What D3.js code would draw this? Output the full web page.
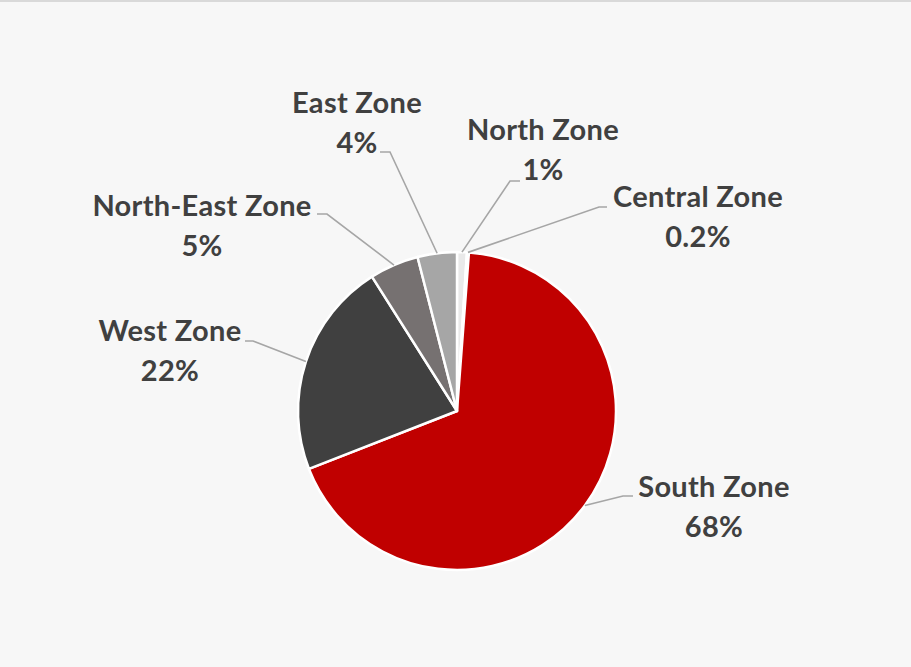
<!DOCTYPE html>
<html>
<head>
<meta charset="utf-8">
<script src="https://cdn.jsdelivr.net/npm/d3@7"></script>
<style>
  html, body { margin: 0; padding: 0; background: #f7f7f7; }
  svg { display: block; }
</style>
</head>
<body>
<svg id="chart" width="911" height="667"></svg>
<script>
// ---- data ----
const categories = ["North Zone", "Central Zone", "South Zone", "West Zone", "North-East Zone", "East Zone"];
const values = [1, 0.2, 68, 22, 5, 4];
const valueLabels = ["1%", "0.2%", "68%", "22%", "5%", "4%"];
const colors = ["#e9e9e9", "#cfcfcf", "#c00000", "#404040", "#767171", "#a6a6a6"];

// ---- layout (label anchor: text centre x, first baseline y, leader start x, leader elbow x, leader y) ----
const labelLayout = [
  { cx: 543, by: 140, lx: 520, ex: 510, ly: 181 },
  { cx: 698, by: 207, lx: 607, ex: 599, ly: 207 },
  { cx: 714, by: 497, lx: 633, ex: 623, ly: 496 },
  { cx: 170, by: 341, lx: 245, ex: 253, ly: 341 },
  { cx: 202, by: 216, lx: 317, ex: 327, ly: 214 },
  { cx: 357, by: 113, lx: 380, ex: 390, ly: 152 }
];

const W = 911, H = 667;
const cx = 457, cy = 411, R = 159;

const svg = d3.select("#chart");
svg.append("rect").attr("x", 0).attr("y", 0).attr("width", W).attr("height", H).attr("fill", "#f7f7f7");
svg.append("rect").attr("x", 0).attr("y", 0).attr("width", W).attr("height", 2).attr("fill", "#d9d9d9");

const data = categories.map((c, i) => ({ name: c, value: values[i], label: valueLabels[i], color: colors[i], layout: labelLayout[i] }));

const pie = d3.pie().value(d => d.value).sort(null);
const arcs = pie(data);
const arc = d3.arc().innerRadius(0).outerRadius(R);
const edge = d3.arc().innerRadius(R).outerRadius(R);

const g = svg.append("g").attr("transform", `translate(${cx},${cy})`);

g.selectAll("path.slice").data(arcs).join("path")
  .attr("class", "slice")
  .attr("d", arc)
  .attr("fill", d => d.data.color)
  .attr("stroke", "#ffffff")
  .attr("stroke-width", 2.5)
  .attr("stroke-linejoin", "round");

// leader lines
const line = d3.line();
svg.selectAll("path.leader").data(arcs).join("path")
  .attr("class", "leader")
  .attr("d", d => {
    const p = edge.centroid(d);
    const L = d.data.layout;
    return line([[L.lx, L.ly], [L.ex, L.ly], [cx + p[0], cy + p[1]]]);
  })
  .attr("fill", "none")
  .attr("stroke", "#a6a6a6")
  .attr("stroke-width", 1.6);

// labels
const labels = svg.selectAll("text.lbl").data(arcs).join("text")
  .attr("class", "lbl")
  .attr("text-anchor", "middle")
  .attr("font-family", "Lato, 'Open Sans', sans-serif")
  .attr("font-weight", "bold")
  .attr("font-size", 29)
  .attr("letter-spacing", 0.3)
  .attr("fill", "#404040");
labels.append("tspan").attr("x", d => d.data.layout.cx).attr("y", d => d.data.layout.by).text(d => d.data.name);
labels.append("tspan").attr("x", d => d.data.layout.cx).attr("y", d => d.data.layout.by + 40).text(d => d.data.label);
</script>
</body>
</html>
